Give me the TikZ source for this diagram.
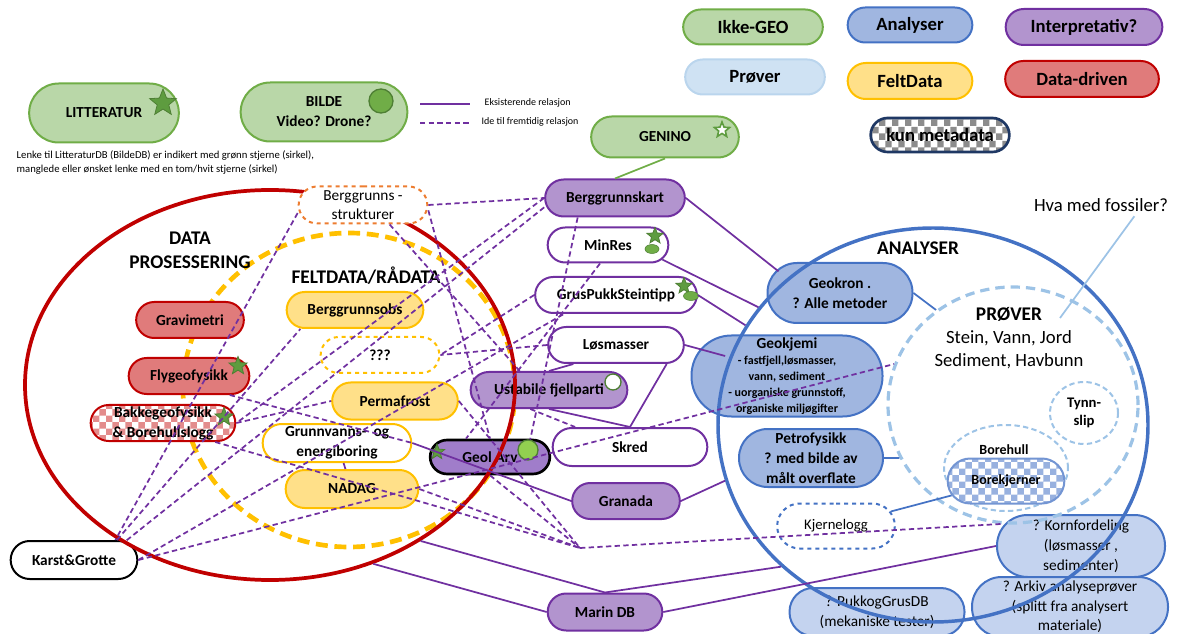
\documentclass[tikz,border=0pt]{standalone}
\usepackage{fontspec}
\setmainfont{Carlito}
\usepackage{tikz}
\usetikzlibrary{shapes.geometric,shapes.misc,patterns,positioning}
\usepackage{xcolor}

\definecolor{gronnfyll}{HTML}{B9D7A8}
\definecolor{gronnkant}{HTML}{70AD47}
\definecolor{blaafyll}{HTML}{A0B6E0}
\definecolor{blaakant}{HTML}{4472C4}
\definecolor{lillafyll}{HTML}{B294CE}
\definecolor{lillakant}{HTML}{7030A0}
\definecolor{provefyll}{HTML}{CFE2F3}
\definecolor{provekant}{HTML}{9DC3E6}
\definecolor{gulfyll}{HTML}{FFE089}
\definecolor{gulkant}{HTML}{FFC000}
\definecolor{roedfyll}{HTML}{E07B7B}
\definecolor{roedkant}{HTML}{C00000}
\definecolor{geolfyll}{HTML}{A07DCA}
\definecolor{lysblaa}{HTML}{C4D3EF}
\definecolor{oransje}{HTML}{ED7D31}
\definecolor{stjerne}{HTML}{5E9C3F}
\definecolor{stjernekant}{HTML}{4E7F34}
\definecolor{lysgronn}{HTML}{92D050}
\definecolor{marine}{HTML}{1F3864}

% rutemonster for noder med kun metadata
\pgfdeclarepatternformonly{rute}{\pgfqpoint{0pt}{0pt}}{\pgfqpoint{10pt}{10pt}}{\pgfqpoint{10pt}{10pt}}{%
  \pgfpathrectangle{\pgfqpoint{0pt}{0pt}}{\pgfqpoint{5pt}{5pt}}%
  \pgfpathrectangle{\pgfqpoint{5pt}{5pt}}{\pgfqpoint{5pt}{5pt}}%
  \pgfusepath{fill}}

\newcommand\lblfont{\fontsize{11.5}{15}\selectfont\bfseries}
\newcommand\legfont{\fontsize{14}{16}\selectfont\bfseries}
\newcommand\headfont{\fontsize{14.5}{18}\selectfont\bfseries}
\newcommand\smallfont{\fontsize{7.5}{10.5}\selectfont}

\begin{document}
\begin{tikzpicture}[
        x=0.75pt, y=-0.75pt,
        pill/.style 2 args={rounded rectangle, minimum width=#1*0.75pt, minimum height=#2*0.75pt, inner ysep=1pt, inner xsep=2pt, align=center, line width=1.5pt, font=\lblfont},
        boks/.style 2 args={rectangle, rounded corners=#2*0.37pt, minimum width=#1*0.75pt, minimum height=#2*0.75pt, inner sep=1pt, align=center, line width=1.5pt, font=\lblfont},
        gronn/.style={fill=gronnfyll, draw=gronnkant},
        analyse/.style={fill=blaafyll, draw=blaakant},
        tolkning/.style={fill=lillafyll, draw=lillakant},
        tolkhvit/.style={fill=white, draw=lillakant},
        proeve/.style={fill=provefyll, draw=provekant!70},
        feltdata/.style={fill=gulfyll, draw=gulkant},
        felthvit/.style={fill=white, draw=gulkant},
        datadrevet/.style={fill=roedfyll, draw=roedkant},
        arkiv/.style={fill=lysblaa, draw=blaakant},
        ruter/.style={preaction={fill=white}, pattern=rute, pattern color=#1},
        omraade/.style={ellipse, inner sep=0pt},
        rel/.style={draw=lillakant, line width=1.3pt},
        idea/.style={rel, dash pattern=on 4pt off 2.5pt},
        stjernemerke/.style={star, star points=5, star point ratio=2.3, inner sep=0pt, minimum size=#1*0.75pt, fill=stjerne, draw=stjernekant, line width=0.6pt},
        prikk/.style={circle, inner sep=0pt, minimum size=#1*0.75pt, line width=1pt}
    ]
    \useasboundingbox (0,0) rectangle (1181,634);

    % Fargeforklaring
    \node[pill={145}{35}, gronn, font=\legfont] (lgikke) at (753,27) {Ikke-GEO};
    \node[pill={130}{35}, analyse, font=\legfont] (lgana) at (910,25) {Analyser};
    \node[pill={162}{36}, tolkning, font=\legfont] (lgtolk) at (1084,27) {Interpretativ?};
    \node[pill={145}{35}, proeve, font=\legfont] (lgprove) at (755,77) {Prøver};
    \node[pill={130}{36}, feltdata, font=\legfont] (lgfelt) at (910,81) {FeltData};
    \node[pill={159}{36}, datadrevet, font=\legfont] (lgdata) at (1082,79) {Data-driven};
    \node[pill={144}{34}, ruter=black!45, draw=marine, line width=2pt, font=\legfont] (lgmeta) at (940,135) {kun metadata};

    \node[pill={155}{59}, gronn] (litt) at (104,113) {LITTERATUR};
    \node[pill={172}{59}, gronn] (bilde) at (324,112) {BILDE\\Video? Drone?};
    \node[pill={153}{41}, gronn] (genino) at (665,137) {GENINO};

    \coordinate (eksA) at (420,104);
    \coordinate (eksB) at (470,104);
    \coordinate (ideA) at (420,123);
    \coordinate (ideB) at (470,123);
    \node[anchor=west, font=\smallfont] (eks) at (480,103) {Eksisterende relasjon};
    \node[anchor=west, font=\smallfont] (ide) at (477,122) {Ide til fremtidig relasjon};
    \node[anchor=west, align=left, font=\fontsize{8}{10.5}\selectfont] (lenke) at (12,163)
        {Lenke til LitteraturDB (BildeDB) er indikert med grønn stjerne (sirkel),\\manglede eller ønsket lenke med en tom/hvit stjerne (sirkel)};
    \node[font=\fontsize{14}{16}\selectfont] (fossil) at (1101,205) {Hva med fossiler?};

    % Feltdata-omraadet
    \node[omraade, draw=gulkant, line width=3.5pt, dash pattern=on 9pt off 5pt, minimum width=332*0.75pt, minimum height=314*0.75pt] (feltring) at (349,390) {};
    \node[font=\headfont] (felttekst) at (366,276) {FELTDATA/RÅDATA};
    \node[font=\headfont, align=center] (datatekst) at (190,250) {DATA\\PROSESSERING};

    % Data-driven
    \node[pill={113}{36}, datadrevet] (grav) at (190,320) {Gravimetri};
    \node[pill={126}{36}, datadrevet] (flygeo) at (189,376) {Flygeofysikk};
    \node[pill={150}{36}, ruter=roedkant!45, draw=roedkant] (bakke) at (163,423) {Bakkegeofysikk\\\& Borehullslogg};
    \node[pill={132}{38}, fill=white, draw=black] (karst) at (74,560) {Karst\&Grotte};

    % Feltdata
    \node[pill={142}{36}, feltdata] (bobs) at (355,310) {Berggrunnsobs};
    \node[pill={124}{36}, felthvit, dashed] (ukjent) at (380,355) {???};
    \node[pill={131}{37}, feltdata] (perma) at (395,401) {Permafrost};
    \node[pill={154}{38}, felthvit] (grunnv) at (337,443) {Grunnvanns-~ og\\energiboring};
    \node[pill={138}{38}, feltdata] (nadag) at (352,489) {NADAG};

    % Interpretative
    \node[pill={145}{37}, tolkning] (bkart) at (615,198) {Berggrunnskart};
    \node[pill={126}{35}, tolkhvit] (minres) at (608,245) {MinRes};
    \node[pill={167}{36}, tolkhvit] (gruspukk) at (616,295) {GrusPukkSteintipp};
    \node[pill={141}{36}, tolkhvit] (loesmasser) at (616,345) {Løsmasser};
    \node[pill={162}{36}, tolkning] (ustabile) at (549,390) {Ustabile fjellparti};
    \node[pill={160}{38}, tolkhvit] (skred) at (630,447) {Skred};
    \node[pill={125}{34}, fill=geolfyll, draw=black, line width=2pt] (geolarv) at (490,457) {Geol Arv};
    \node[pill={113}{36}, tolkning] (granada) at (626,501) {Granada};
    \node[pill={120}{37}, tolkning] (marin) at (605,612) {Marin DB};

    % Analyser
    \node[boks={145}{60}, analyse] (geokron) at (840,293) {Geokron .\\? Alle metoder};
    \node[boks={191}{81}, analyse, font=\fontsize{9}{12}\selectfont\bfseries] (geokjemi) at (787,376)
        {{\fontsize{11.5}{12}\selectfont Geokjemi}\\- fastfjell,løsmasser,\\vann, sediment\\- uorganiske grunnstoff,\\organiske miljøgifter};
    \node[boks={144}{58}, analyse] (petro) at (811,458) {Petrofysikk\\? med bilde av\\målt overflate};
    \node[pill={123}{45}, fill=white, draw=blaakant, dashed, font=\fontsize{11}{13}\selectfont] (kjernelogg) at (836,526) {Kjernelogg};
    \node[boks={168}{62}, arkiv, font=\fontsize{11.5}{15}\selectfont] (kornf) at (1081,546) {? Kornfordeling\\(løsmasser ,\\sedimenter)};
    \node[boks={175}{48}, arkiv, font=\fontsize{11.5}{15}\selectfont] (pukk) at (877,612) {? PukkogGrusDB\\(mekaniske tester)};
    \node[boks={196}{60}, arkiv, font=\fontsize{11.5}{14.5}\selectfont] (arkiv) at (1070,607) {? Arkiv analyseprøver\\(splitt fra analysert\\materiale)};

    % Data prosessering
    \node[omraade, draw=roedkant, line width=2.8pt, minimum width=490*0.75pt, minimum height=390*0.75pt] (dataproc) at (270,385) {};
    \node[pill={134}{37}, fill=white, draw=oransje, dashed, font=\fontsize{11.5}{14}\selectfont] (bstrukt) at (363,205) {Berggrunns -\\strukturer};

    % Analyser og proever
    \node[omraade, draw=blaakant, line width=2.6pt, minimum width=430*0.75pt, minimum height=394*0.75pt] (analyser) at (933,425) {};
    \node[font=\headfont] (anatekst) at (918,248) {ANALYSER};
    \node[omraade, draw=provekant, line width=2.4pt, dash pattern=on 7pt off 4.5pt, minimum width=250*0.75pt, minimum height=236*0.75pt] (prover) at (1013,405) {};
    \node[align=center, font=\fontsize{14}{17.5}\selectfont] (provetekst) at (1009,338) {\headfont PRØVER\\Stein, Vann, Jord\\Sediment, Havbunn};
    \node[omraade, draw=provekant, line width=1.5pt, dash pattern=on 4pt off 2.5pt, minimum width=68*0.75pt, minimum height=62*0.75pt, align=center, font=\fontsize{11}{14}\selectfont\bfseries] (tynnslip) at (1084,413) {Tynn-\\slip};
    \node[omraade, draw=provekant, line width=1.5pt, dash pattern=on 4pt off 2.5pt, minimum width=124*0.75pt, minimum height=86*0.75pt] (borehull) at (1006,468) {};
    \node[font=\fontsize{10.5}{12}\selectfont\bfseries] (borehulltekst) at (1004,450) {Borehull};
    \node[pill={122}{45}, ruter=blaakant!55, draw=blaakant!75, font=\fontsize{10.5}{12}\selectfont\bfseries] (borekjerner) at (1006,481) {Borekjerner};

    % Stjerner og sirkler
    \node[stjernemerke=28] (littstjerne) at (163,103) {};
    \node[prikk=24, fill=gronnkant, draw=stjernekant] (bildesirkel) at (381,101) {};
    \node[stjernemerke=16, fill=white, draw=stjerne, line width=1.2pt] (geninostjerne) at (722,130) {};
    \node[stjernemerke=17] (minstjerne) at (655,236) {};
    \node[ellipse, inner sep=0pt, minimum width=14*0.75pt, minimum height=9*0.75pt, fill=gronnkant, draw=stjernekant] (minsirkel) at (652,249) {};
    \node[stjernemerke=17] (grusstjerne) at (684,286) {};
    \node[ellipse, inner sep=0pt, minimum width=15*0.75pt, minimum height=9*0.75pt, fill=gronnkant, draw=stjernekant] (grussirkel) at (691,296) {};
    \node[stjernemerke=19] (flystjerne) at (238,366) {};
    \node[stjernemerke=19] (bakkestjerne) at (224,417) {};
    \node[stjernemerke=16] (geolstjerne) at (437,452) {};
    \node[prikk=20, fill=lysgronn, draw=stjernekant] (geolsirkel) at (528,450) {};
    \node[prikk=16, fill=white, draw=stjernekant] (ustsirkel) at (613,382) {};

    % Forklaring av linjer
    \draw[rel] (eksA) -- (eksB);
    \draw[idea] (ideA) -- (ideB);

    % Eksisterende relasjoner
    \draw[gronnkant, line width=1.3pt] (genino.south) -- (bkart.north);
    \draw[rel] (bkart.east) -- ([shift={(9pt,-7pt)}]geokron.north west);
    \draw[rel] (minres.-15) -- (analyser.146);
    \draw[rel] (gruspukk.east) -- (analyser.152);
    \draw[rel] (loesmasser.east) -- ([shift={(26pt,15pt)}]geokjemi.west);
    \draw[rel] ([xshift=38pt]loesmasser.south) -- (skred.north);
    \draw[rel] ([xshift=-32pt]loesmasser.south) -- (ustabile.north);
    \draw[rel] (ustabile.south) -- (skred.north);
    \draw[rel] (grunnv.east) -- (granada.west);
    \draw[rel] (grunnv) -- (nadag);
    \draw[rel] (granada.east) -- (analyser.195);
    \draw[rel] (dataproc.-60) -- (marin.west);
    \draw[rel] (dataproc.-46) -- (marin.north);
    \draw[rel] (marin.north) -- (analyser.223);
    \draw[rel] (marin.east) -- (kornf.west);
    \draw[blaakant, line width=1.3pt] (geokron.east) -- (prover.129);
    \draw[blaakant, line width=1.3pt] (petro.east) -- (prover.205);
    \draw[blaakant, line width=1.3pt] (kjernelogg) -- (borekjerner);
    \coordinate (fosslutt) at (1060,318);
    \draw[provekant, line width=1.3pt] ([xshift=25pt]fossil.south) -- (fosslutt);

    % Ideer til fremtidige relasjoner
    \coordinate (hub) at (580,548);
    \draw[idea] (bstrukt.east) -- (bkart.west);
    \draw[idea] ([yshift=-6pt]bstrukt.west) -- ([xshift=31pt]karst.north);
    \draw[idea] ([xshift=20pt]bstrukt.south) -- ([xshift=-22pt]ustabile.north);
    \draw[idea] ([yshift=-4pt]bstrukt.east) -- (geolarv.north);
    \draw[idea] ([xshift=-28pt]bkart.south) -- (geolsirkel);
    \draw[idea] (bkart.west) -- (bakke.east);
    \draw[idea] ([yshift=-7pt]bkart.west) -- (karst.20);
    \draw[idea] ([xshift=-6pt]minres.south) -- ([xshift=-18pt]geolarv.north);
    \draw[idea] (gruspukk.west) -- (ukjent.east);
    \draw[idea] (loesmasser.west) -- (ukjent.east);
    \draw[idea] (karst.25) -- ([xshift=-41pt]bobs.south);
    \draw[idea] (karst.east) -- (gruspukk.200);
    \draw[idea] (karst.east) -- (prover.161);
    \draw[idea] (bakke.east) -- (perma.west);
    \draw[idea] (bakke.-20) -- (hub);
    \draw[idea] (flygeo.-25) -- (grunnv.east);
    \draw[idea] (perma.east) -- (hub);
    \draw[idea] (nadag.east) -- (hub);
    \draw[idea] (geolarv.south) -- (hub);
    \draw[idea] ([xshift=-14pt]ustabile.south) -- (skred.160);
    \draw[idea] (hub) -- (prover.264);

    \end{tikzpicture}
\end{document}
